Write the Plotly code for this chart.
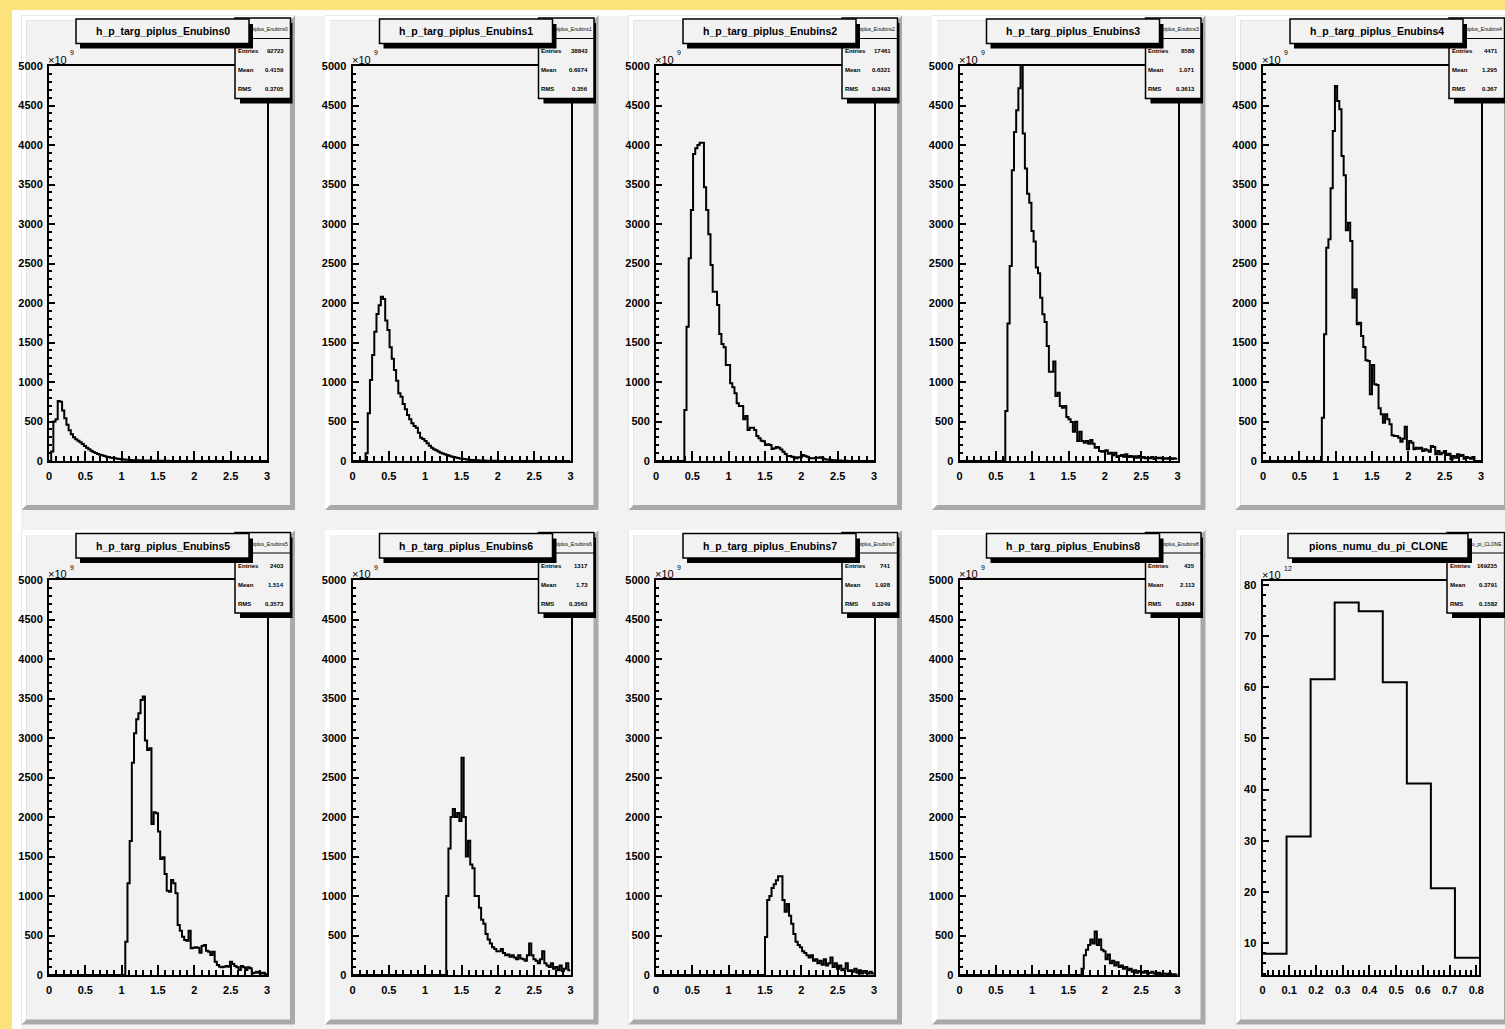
import plotly.graph_objects as go

W, H = 1505, 1029

# ---------------- data ----------------
hist_titles = ["h_p_targ_piplus_Enubins0", "h_p_targ_piplus_Enubins1", "h_p_targ_piplus_Enubins2",
               "h_p_targ_piplus_Enubins3", "h_p_targ_piplus_Enubins4", "h_p_targ_piplus_Enubins5",
               "h_p_targ_piplus_Enubins6", "h_p_targ_piplus_Enubins7", "h_p_targ_piplus_Enubins8",
               "pions_numu_du_pi_CLONE"]
stat_names = ["piplus_Enubins0", "piplus_Enubins1", "piplus_Enubins2", "piplus_Enubins3", "piplus_Enubins4",
              "piplus_Enubins5", "piplus_Enubins6", "piplus_Enubins7", "piplus_Enubins8", "u_pi_CLONE"]
stat_entries = ["92723", "38843", "17461", "8588", "4471", "2403", "1317", "741", "435", "169235"]
stat_means = ["0.4159", "0.6074", "0.6321", "1.071", "1.295", "1.514", "1.73", "1.928", "2.113", "0.3791"]
stat_rms = ["0.3705", "0.356", "0.3493", "0.3613", "0.367", "0.3573", "0.3563", "0.3249", "0.2884", "0.1582"]
y_exponents = ["9"] * 9 + ["12"]

N_BINS = 100
X_MIN, X_MAX = 0.0, 3.0
Y_MIN, Y_MAX = 0, 5000
first_bins = [0, 6, 13, 21, 27, 35, 43, 50, 56]

counts_enubins0 = [0, 120, 500, 530, 760, 750, 640, 540, 460, 390, 340, 300, 275, 257, 236, 215, 190, 169, 148,
                   131, 114, 101, 89, 80, 72, 63, 55, 51, 42, 38, 34, 30, 25, 21, 19, 17, 15, 13, 11, 10, 9, 8,
                   7, 6, 5, 5, 4, 4, 3, 3, 3, 2, 2, 2, 2, 1, 1, 1, 1, 1, 1]
counts_enubins1 = [97, 603, 1025, 1342, 1637, 1861, 1971, 2080, 2050, 1777, 1658, 1439, 1295, 1152, 1017, 857,
                   814, 722, 654, 582, 528, 477, 443, 422, 358, 295, 278, 253, 224, 194, 169, 150, 135, 120, 105,
                   95, 85, 75, 65, 58, 50, 44, 38, 33, 28, 24, 20, 17, 14, 12, 10, 8, 7, 6, 5, 4, 3, 3, 2, 2, 1, 1]
counts_enubins2 = [646, 1700, 2566, 3178, 3887, 3958, 4000, 4030, 4030, 3465, 3178, 2870, 2481, 2143, 2143, 1975,
                   1608, 1481, 1439, 1215, 1215, 984, 933, 857, 730, 696, 696, 528, 570, 392, 422, 422, 392, 316,
                   287, 257, 249, 203, 211, 203, 152, 160, 177, 169, 144, 118, 89, 63, 63, 55, 46, 34, 46, 46, 76,
                   63, 55, 38, 34, 34, 42, 42, 46, 34, 21, 20, 15, 12, 10, 8, 6, 5, 4, 3, 3]
counts_enubins3 = [633, 1739, 2469, 3680, 4165, 4439, 4718, 5300, 4144, 3701, 3384, 3270, 2912, 2777, 2448, 2376,
                   2068, 1857, 1760, 1456, 1131, 1131, 1258, 823, 865, 696, 675, 696, 557, 528, 494, 371, 498, 253,
                   371, 253, 232, 253, 219, 266, 219, 169, 177, 127, 118, 127, 135, 93, 105, 72, 105, 51, 63, 76,
                   55, 84, 51, 63, 51, 59, 42, 63, 42, 51, 34, 42, 34, 51, 25, 42, 34, 42, 30, 34, 30, 38, 25, 34, 30]
counts_enubins4 = [549, 1604, 2700, 2806, 3452, 4178, 4748, 4558, 4452, 3861, 3617, 2920, 3017, 2785, 2068, 2173,
                   1730, 1751, 1583, 1443, 1274, 1266, 844, 1215, 971, 962, 667, 591, 485, 591, 528, 464, 325, 317,
                   317, 295, 245, 283, 435, 148, 253, 232, 148, 169, 156, 169, 127, 148, 135, 118, 190, 177, 84,
                   127, 84, 105, 127, 76, 93, 21, 63, 42, 84, 63, 76, 30, 51, 40, 30, 50]
counts_enubins5 = [422, 1160, 1696, 2688, 3060, 3237, 3313, 3481, 3524, 2967, 2849, 2870, 1912, 2059, 2047, 1815,
                   1469, 1490, 1279, 1068, 1055, 1203, 1160, 1034, 633, 561, 485, 443, 435, 561, 338, 346, 350,
                   346, 283, 367, 380, 308, 295, 253, 295, 169, 127, 105, 97, 105, 114, 105, 169, 139, 114, 97, 63,
                   114, 97, 63, 97, 84, 21, 30, 40, 30, 20, 30, 10]
counts_enubins6 = [1000, 1600, 2000, 2100, 2000, 2050, 1950, 2750, 2000, 1500, 1700, 1400, 1350, 1000, 1000, 850,
                   700, 650, 520, 450, 400, 350, 330, 300, 300, 330, 280, 250, 260, 230, 250, 220, 200, 250, 210,
                   200, 180, 250, 400, 250, 200, 180, 150, 200, 300, 150, 120, 100, 150, 80, 100, 60, 120, 50, 80,
                   150, 60]
counts_enubins7 = [480, 950, 1000, 1100, 1150, 1200, 1250, 1250, 950, 800, 900, 750, 650, 520, 420, 380, 350, 300,
                   280, 250, 220, 250, 180, 200, 150, 180, 130, 200, 120, 150, 220, 100, 150, 80, 120, 60, 80, 150,
                   50, 60, 40, 80, 30, 60, 20, 50, 30, 20, 40, 20]
counts_enubins8 = [80, 250, 320, 380, 450, 400, 550, 380, 450, 320, 300, 200, 260, 150, 180, 120, 160, 100, 120, 80,
                   100, 60, 80, 40, 60, 30, 50, 40, 30, 50, 20, 30, 40, 20, 10, 30, 10, 20, 15, 10, 20, 5, 10, 5]
enubin_counts = [counts_enubins0, counts_enubins1, counts_enubins2, counts_enubins3, counts_enubins4,
                 counts_enubins5, counts_enubins6, counts_enubins7, counts_enubins8]

CLONE_N_BINS = 9
CLONE_X_MIN, CLONE_X_MAX = 0.0, 0.81
CLONE_Y_MIN, CLONE_Y_MAX = 3.73, 80.8
clone_counts = [7.9, 30.8, 61.6, 76.6, 74.9, 61.0, 41.2, 20.7, 7.1]

enu_x_tickvals = [0, 0.5, 1, 1.5, 2, 2.5, 3]
enu_x_ticktext = ["0", "0.5", "1", "1.5", "2", "2.5", "3"]
enu_y_tickvals = [0, 500, 1000, 1500, 2000, 2500, 3000, 3500, 4000, 4500, 5000]
enu_y_ticktext = ["0", "500", "1000", "1500", "2000", "2500", "3000", "3500", "4000", "4500", "5000"]
clone_x_tickvals = [0, 0.1, 0.2, 0.3, 0.4, 0.5, 0.6, 0.7, 0.8]
clone_x_ticktext = ["0", "0.1", "0.2", "0.3", "0.4", "0.5", "0.6", "0.7", "0.8"]
clone_y_tickvals = [10, 20, 30, 40, 50, 60, 70, 80]
clone_y_ticktext = ["10", "20", "30", "40", "50", "60", "70", "80"]

# ---------------- helpers ----------------
def px(x):
    return x / W


def py(y):
    return 1 - y / H


def frange(a, b, step):
    out, k = [], 0
    while a + k * step <= b + 1e-9:
        out.append(round(a + k * step, 6))
        k += 1
    return out


COL_DX, ROW_DY = 303.5, 514.5
YELLOW = "#FCE27A"
PADGREY = "#F2F2F2"
DARK = "#A9A9A9"
FONT = "Liberation Sans"

fig = go.Figure()
shapes, annotations = [], []


def rect(x0, y0, x1, y1, fill, lc=None, lw=0, layer="below"):
    return dict(type="rect", xref="paper", yref="paper", x0=px(x0), x1=px(x1), y0=py(y1), y1=py(y0),
                fillcolor=fill, line=dict(width=lw, color=lc or fill), layer=layer)


def poly(pts, fill, layer="below"):
    p = "M " + " L ".join(f"{px(x):.6f},{py(y):.6f}" for x, y in pts) + " Z"
    return dict(type="path", xref="paper", yref="paper", path=p, fillcolor=fill,
                line=dict(width=0, color=fill), layer=layer)


def text(x, y, s, size, xanchor="center", yanchor="middle", bold=False):
    annotations.append(dict(x=px(x), y=py(y), xref="paper", yref="paper", text=s, showarrow=False,
                            xanchor=xanchor, yanchor=yanchor, borderpad=0,
                            font=dict(family=FONT, size=size, color="black", weight="bold" if bold else "normal")))


# canvas
shapes.append(rect(12, 10, 1600, 1100, PADGREY))
shapes.append(rect(12, 10, 1600, 16, "white"))
shapes.append(rect(12, 10, 21, 1100, "white"))

layout_axes = {}
for i in range(10):
    c, r = i % 5, i // 5
    ox, oy = COL_DX * c, ROW_DY * r
    # pad with bevel
    x0, y0, x1, y1, b = 21.5 + ox, 15.5 + oy, 295 + ox, 510 + oy, 5
    shapes.append(rect(x0, y0, x1, y1, DARK))
    shapes.append(poly([(x0, y0), (x1, y0), (x1 - b, y0 + b), (x0 + b, y0 + b), (x0 + b, y1 - b), (x0, y1)], "white"))
    shapes.append(rect(x0 + b, y0 + b, x1 - b, y1 - b, PADGREY))

    # frame (plot area) geometry
    if i < 9:
        fl, fr, ft, fb = 49 + ox, 267 + ox, 66 + r * 514, 461 + r * 514
    else:
        fl, fr, ft, fb = 1262.5, 1479, 581, 975
    xa = "xaxis" if i == 0 else f"xaxis{i + 1}"
    ya = "yaxis" if i == 0 else f"yaxis{i + 1}"
    xr = "x" if i == 0 else f"x{i + 1}"
    yr = "y" if i == 0 else f"y{i + 1}"

    if i < 9:
        edges = [X_MIN + k * (X_MAX - X_MIN) / N_BINS for k in range(N_BINS + 1)]
        vals = enubin_counts[i][:N_BINS - first_bins[i]]
        full = [0] * first_bins[i] + vals + [0] * (N_BINS - first_bins[i] - len(vals))
        xrange_, yrange_ = [X_MIN, X_MAX], [Y_MIN, Y_MAX]
        xtv, xtt, ytv, ytt = enu_x_tickvals, enu_x_ticktext, enu_y_tickvals, enu_y_ticktext
        xminor, yminor = frange(0, 3, 0.1), frange(0, 5000, 100)
    else:
        edges = [CLONE_X_MIN + k * (CLONE_X_MAX - CLONE_X_MIN) / CLONE_N_BINS for k in range(CLONE_N_BINS + 1)]
        full = clone_counts
        xrange_, yrange_ = [CLONE_X_MIN, CLONE_X_MAX], [CLONE_Y_MIN, CLONE_Y_MAX]
        xtv, xtt, ytv, ytt = clone_x_tickvals, clone_x_ticktext, clone_y_tickvals, clone_y_ticktext
        xminor, yminor = frange(0, 0.8, 0.02), frange(4, 80, 2)

    fig.add_trace(go.Scatter(x=edges, y=list(full) + [full[-1]], mode="lines", line_shape="hv",
                             line=dict(color="black", width=2), xaxis=xr, yaxis=yr,
                             showlegend=False, hoverinfo="skip"))

    tickfont = dict(family=FONT, size=11, color="black", weight="bold")
    layout_axes[xa] = dict(domain=[px(fl), px(fr)], range=xrange_, anchor=yr, showline=True, mirror=True,
                           linecolor="black", linewidth=2, ticks="inside", ticklen=10, tickwidth=1.5,
                           tickcolor="black", tickmode="array", tickvals=xtv, ticktext=xtt,
                           minor=dict(tickmode="array", tickvals=xminor, ticks="inside", ticklen=5,
                                      tickwidth=1.5, tickcolor="black", showgrid=False),
                           showgrid=False, zeroline=False, tickfont=tickfont, fixedrange=True,
                           ticklabelstandoff=4, automargin=False)
    layout_axes[ya] = dict(domain=[py(fb), py(ft)], range=yrange_, anchor=xr, showline=True, mirror=True,
                           linecolor="black", linewidth=2, ticks="inside", ticklen=6, tickwidth=1.5,
                           tickcolor="black", tickmode="array", tickvals=ytv, ticktext=ytt,
                           minor=dict(tickmode="array", tickvals=yminor, ticks="inside", ticklen=3,
                                      tickwidth=1.5, tickcolor="black", showgrid=False),
                           showgrid=False, zeroline=False, tickfont=tickfont, fixedrange=True,
                           ticklabelstandoff=2, automargin=False)

    # exponent label (x10^n)
    text(fl - 2, ft - 6, "×10", 11, xanchor="left")
    text(fl + 20, ft - 13, y_exponents[i], 7, xanchor="left")

    # stats box
    sx0, sy0, sx1, sy1 = 235 + ox, 18 + oy, 290.5 + ox, 98.5 + oy
    if i == 9:
        sx0 -= 2
    shapes.append(rect(sx0 + 5, sy0 + 5, sx1 + 2, sy1 + 5, "black", layer="above"))
    shapes.append(rect(sx0, sy0, sx1, sy1, PADGREY, "black", 1.5, layer="above"))
    shapes.append(dict(type="line", xref="paper", yref="paper", x0=px(sx0), x1=px(sx1),
                       y0=py(sy0 + 20.5), y1=py(sy0 + 20.5), line=dict(color="black", width=1), layer="above"))
    text(sx1 - 1.5, sy0 + 11, stat_names[i], 5, xanchor="right")
    for k, (lab, val) in enumerate([("Entries", stat_entries[i]), ("Mean", stat_means[i]),
                                    ("RMS", stat_rms[i])]):
        yy = 51 + oy + 19 * k
        text(sx0 + 1.5, yy, lab, 6, xanchor="left", bold=True)
        text(sx1 - 5.5, yy, val, 6, xanchor="right", bold=True)

    # title box
    tw = 173 if i < 9 else 180
    tc = 162.5 + ox if i < 9 else 1378
    tx0, tx1, ty0, ty1 = tc - tw / 2, tc + tw / 2, 19 + oy, 43.5 + oy
    shapes.append(rect(tx0 + 4, ty0 + 5, tx1 + 4, ty1 + 5, "black", layer="above"))
    shapes.append(rect(tx0, ty0, tx1, ty1, PADGREY, "black", 1.5, layer="above"))
    text(tc, (ty0 + ty1) / 2, hist_titles[i], 10.5, bold=True)

fig.update_layout(width=W, height=H, margin=dict(l=0, r=0, t=0, b=0, pad=0, autoexpand=False),
                  paper_bgcolor=YELLOW, plot_bgcolor="rgba(0,0,0,0)", shapes=shapes,
                  annotations=annotations, showlegend=False, **layout_axes)

fig.write_html("out.html", config={"displayModeBar": False},
               post_script="document.body.style.margin='0';document.body.style.overflow='hidden';"
                           "document.body.style.background='" + YELLOW + "';")
